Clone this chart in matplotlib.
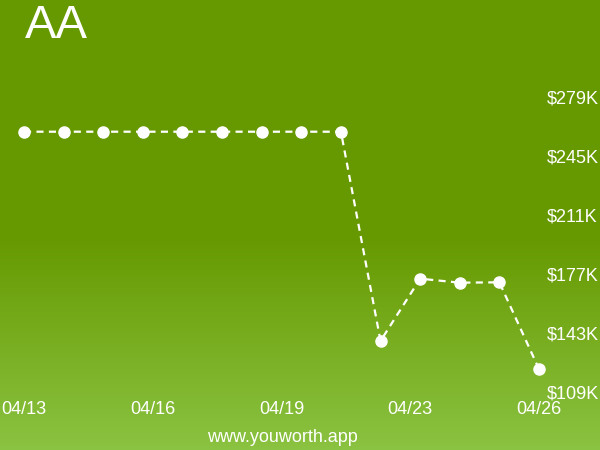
import matplotlib
matplotlib.use("Agg")
import matplotlib.pyplot as plt
import numpy as np

plt.rcParams['font.family'] = ['Liberation Sans', 'DejaVu Sans']

title = "AA"
values_k = [259, 259, 259, 259, 259, 259, 259, 259, 259, 138.4, 174.3, 172, 172.2, 122.2]
x_labels = ["04/13", "04/16", "04/19", "04/23", "04/26"]
y_ticks_k = [109, 143, 177, 211, 245, 279]
footer = "www.youworth.app"

W, H = 600, 450
fig = plt.figure(figsize=(W / 100, H / 100), dpi=100)

# background gradient
bg = fig.add_axes([0, 0, 1, 1])
bg.set_axis_off()
rows = np.zeros((H, 1, 3))
top = np.array([0x66, 0x99, 0x00]) / 255
bot = np.array([0x8B, 0xC3, 0x42]) / 255
for r in range(H):
    t = 0 if r < 235 else (r - 235) / (H - 235)
    rows[r, 0] = top + (bot - top) * t
bg.imshow(rows, aspect='auto', extent=[0, 1, 0, 1], origin='upper')
bg.set_xlim(0, 1)
bg.set_ylim(0, 1)

left, right = 24 / W, 539 / W
ytop, ybot = 97 / H, 392 / H
ax = fig.add_axes([left, 1 - ybot, right - left, ybot - ytop])
ax.patch.set_alpha(0)
for s in ax.spines.values():
    s.set_visible(False)

x = np.arange(len(values_k))
ax.plot(x, values_k, color='white', lw=1.6, ls=(0, (3.2, 2.4)),
        marker='o', ms=8, mfc='white', mec='white', clip_on=False)
ax.set_xlim(0, len(values_k) - 1)
ax.set_ylim(y_ticks_k[0], y_ticks_k[-1])

ax.set_xticks(np.linspace(0, len(values_k) - 1, len(x_labels)))
ax.set_xticklabels(x_labels)
ax.set_yticks(y_ticks_k)
ax.set_yticklabels([f"${v}K" for v in y_ticks_k])
ax.yaxis.tick_right()
ax.tick_params(axis='both', length=0, colors='white', labelsize=13)
ax.tick_params(axis='y', pad=5.8)
ax.tick_params(axis='x', pad=6.2)
for lab in ax.get_yticklabels():
    lab.set_horizontalalignment('left')

fig.text(25 / W, 1 - 4 / H, title, color='white', fontsize=34, ha='left', va='top')
fig.text(282 / W, 1 - 437 / H, footer, color='white', fontsize=13, ha='center', va='center')

fig.savefig("out.png", dpi=100)
